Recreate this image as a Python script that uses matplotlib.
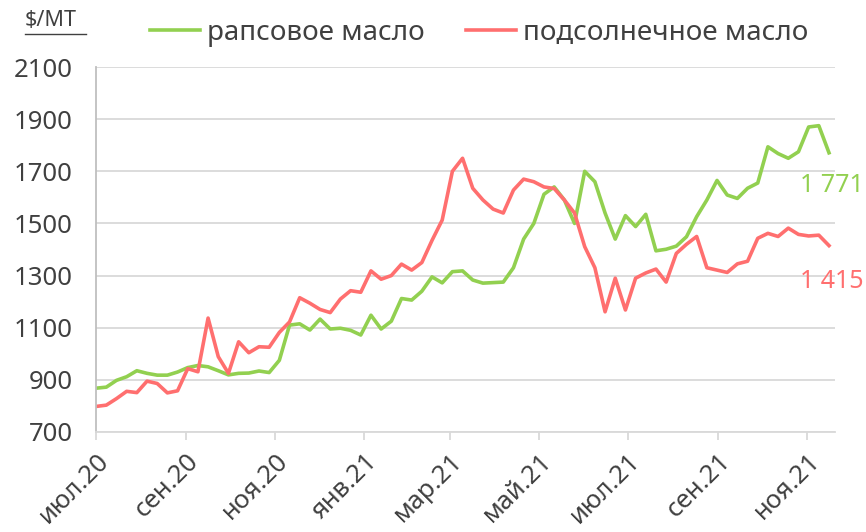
import numpy as np
import pandas as pd
import matplotlib
matplotlib.use('Agg')
import matplotlib.pyplot as plt
from matplotlib.lines import Line2D

# weekly prices, $/MT (jul.2020 - mid nov.2021)
rapeseed = [868, 872, 898, 912, 935, 925, 918, 918, 930, 947,
            955, 950, 935, 919, 925, 926, 934, 928, 975, 1110,
            1115, 1091, 1133, 1095, 1098, 1090, 1072, 1148, 1095, 1125,
            1212, 1206, 1240, 1295, 1272, 1315, 1318, 1283, 1271, 1273,
            1275, 1330, 1440, 1500, 1612, 1640, 1590, 1500, 1700, 1660,
            1540, 1440, 1530, 1488, 1535, 1395, 1401, 1413, 1449, 1526,
            1590, 1665, 1609, 1596, 1635, 1655, 1794, 1768, 1750, 1775,
            1870, 1875, 1771]
sunflower = [798, 803, 828, 856, 851, 895, 886, 850, 858, 943,
             931, 1137, 989, 925, 1046, 1004, 1027, 1025, 1082, 1122,
             1215, 1194, 1170, 1158, 1210, 1242, 1236, 1318, 1286, 1300,
             1344, 1321, 1350, 1435, 1513, 1700, 1750, 1635, 1590, 1555,
             1540, 1628, 1670, 1660, 1640, 1634, 1590, 1540, 1411, 1330,
             1161, 1290, 1168, 1290, 1310, 1325, 1275, 1385, 1420, 1450,
             1330, 1321, 1312, 1345, 1355, 1443, 1462, 1450, 1482, 1458,
             1452, 1455, 1415]
dates = pd.date_range('2020-07-01', '2021-11-16', periods=len(rapeseed))

tick_dates = pd.to_datetime(['2020-07-01', '2020-09-01', '2020-11-01', '2021-01-01',
                             '2021-03-01', '2021-05-01', '2021-07-01', '2021-09-01',
                             '2021-11-01'])
tick_labels = ['июл.20', 'сен.20', 'ноя.20', 'янв.21', 'мар.21', 'май.21',
               'июл.21', 'сен.21', 'ноя.21']
names = ['рапсовое масло', 'подсолнечное масло']

green = '#92d050'
red = '#ff6f6f'
txt = '#404040'

plt.rcParams['font.family'] = ['Noto Sans', 'DejaVu Sans']

fig = plt.figure(figsize=(8.66, 5.32), dpi=100)
ax = fig.add_axes([0.111, 0.188, 0.853, 0.686])

ax.plot(dates, rapeseed, color=green, lw=2.6, solid_joinstyle='round', label=names[0])
ax.plot(dates, sunflower, color=red, lw=2.6, solid_joinstyle='round', label=names[1])

ax.set_ylim(700, 2100)
ax.set_yticks(np.arange(700, 2101, 200))
ax.set_xlim(pd.Timestamp('2020-07-01'), pd.Timestamp('2021-11-20'))
ax.set_xticks(tick_dates)
ax.set_xticklabels(tick_labels, rotation=45, ha='right', rotation_mode='anchor')

ax.grid(axis='y', color='#d9d9d9', lw=1.3)
ax.set_axisbelow(True)
for s in ['top', 'right']:
    ax.spines[s].set_visible(False)
ax.spines['left'].set_color('#bfbfbf')
ax.spines['left'].set_linewidth(1.3)
ax.spines['bottom'].set_color('#d9d9d9')
ax.spines['bottom'].set_linewidth(1.3)
ax.tick_params(axis='y', length=0, pad=17, labelsize=18.5, labelcolor=txt)
ax.tick_params(axis='x', length=6, width=1.3, color='#d9d9d9', pad=6,
               labelsize=18.5, labelcolor=txt)

# last values
fig.text(0.997, 1 - 186 / 532, '1 771', color=green, fontsize=18, ha='right', va='center')
fig.text(0.997, 1 - 282 / 532, '1 415', color=red, fontsize=18, ha='right', va='center')

leg = fig.legend(loc='center left', bbox_to_anchor=(150 / 866, 1 - 33 / 532), ncol=2,
                 frameon=False, fontsize=20, handlelength=1.8, handletextpad=0.25,
                 columnspacing=1.5, borderpad=0, borderaxespad=0)
for t in leg.get_texts():
    t.set_color(txt)

fig.text(25 / 866, 1 - 20 / 532, '$/МТ', fontsize=15.5, color=txt, va='center', ha='left')
fig.add_artist(Line2D([25 / 866, 86 / 866], [1 - 34 / 532, 1 - 34 / 532],
                      color=txt, lw=1.0, transform=fig.transFigure))

fig.savefig('out.png', dpi=100)
